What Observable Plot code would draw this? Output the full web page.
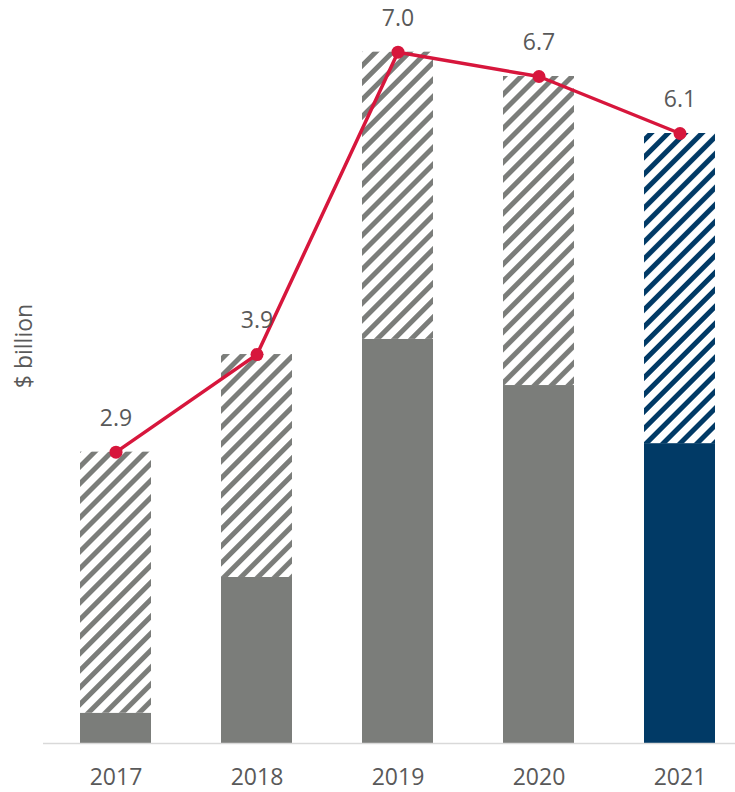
<!DOCTYPE html>
<html>
<head>
<meta charset="utf-8">
<script src="https://cdn.jsdelivr.net/npm/d3@7"></script>
<script src="https://cdn.jsdelivr.net/npm/@observablehq/plot@0.6"></script>
<style>
  body { margin: 0; background: #fff; }
  svg { font-family: "Open Sans", sans-serif; }
</style>
</head>
<body>
<div id="chart"></div>
<script>
const years = ["2017", "2018", "2019", "2020", "2021"];
const totals = [2.934, 3.917, 6.962, 6.717, 6.143];
const solidPart = [0.305, 1.672, 4.07, 3.605, 3.02];

const GRAY = "#7b7d7a";
const NAVY = "#013a66";
const RED = "#d7163c";
const TEXT = "#595959";

const data = years.map((year, i) => ({year, total: totals[i], solid: solidPart[i]}));
const fmt = d3.format(".1f");

const chart = Plot.plot({
  width: 735,
  height: 792,
  marginLeft: 43,
  marginRight: 0,
  marginTop: 0,
  marginBottom: 49,
  style: {color: TEXT, fontFamily: "'Open Sans', sans-serif", background: "#fff"},
  x: {domain: years, range: [43, 751], paddingInner: 0.5, paddingOuter: 0.25, label: null},
  y: {domain: [0, 7.3], range: [743, 743 - 7.3 * 99.3], axis: null},
  marks: [
    Plot.barY(data.filter(d => d.year !== "2021"), {x: "year", y1: 0, y2: "solid", fill: GRAY}),
    Plot.barY(data.filter(d => d.year === "2021"), {x: "year", y1: 0, y2: "solid", fill: NAVY}),
    Plot.barY(data.filter(d => d.year !== "2021"), {x: "year", y1: "solid", y2: "total", fill: "url(#hatchGray)"}),
    Plot.barY(data.filter(d => d.year === "2021"), {x: "year", y1: "solid", y2: "total", fill: "url(#hatchNavy)"}),
    Plot.ruleY([0], {stroke: "#d9d9d9", strokeWidth: 1.5}),
    Plot.line(data, {x: "year", y: "total", stroke: RED, strokeWidth: 3.5}),
    Plot.dot(data, {x: "year", y: "total", r: 6.5, fill: RED, stroke: "none"}),
    Plot.text(data, {x: "year", y: "total", text: d => fmt(d.total), dy: -34, fontSize: 23, fill: TEXT}),
    Plot.axisX({tickSize: 0, tickPadding: 25, fontSize: 23, label: null}),
    Plot.text(["$ billion"], {frameAnchor: "left", textAnchor: "middle", dx: -19, dy: -26, rotate: -90, fontSize: 23, fill: TEXT})
  ]
});

const defs = d3.select(chart).insert("defs", ":first-child");
function hatch(id, color) {
  const p = defs.append("pattern")
    .attr("id", id)
    .attr("patternUnits", "userSpaceOnUse")
    .attr("width", 12)
    .attr("height", 12)
    .attr("patternTransform", "rotate(45)");
  p.append("rect").attr("width", 12).attr("height", 12).attr("fill", "#fff");
  p.append("rect").attr("x", 0).attr("y", 0).attr("width", 5).attr("height", 12).attr("fill", color);
}
hatch("hatchGray", GRAY);
hatch("hatchNavy", NAVY);

document.getElementById("chart").appendChild(chart);
</script>
</body>
</html>
